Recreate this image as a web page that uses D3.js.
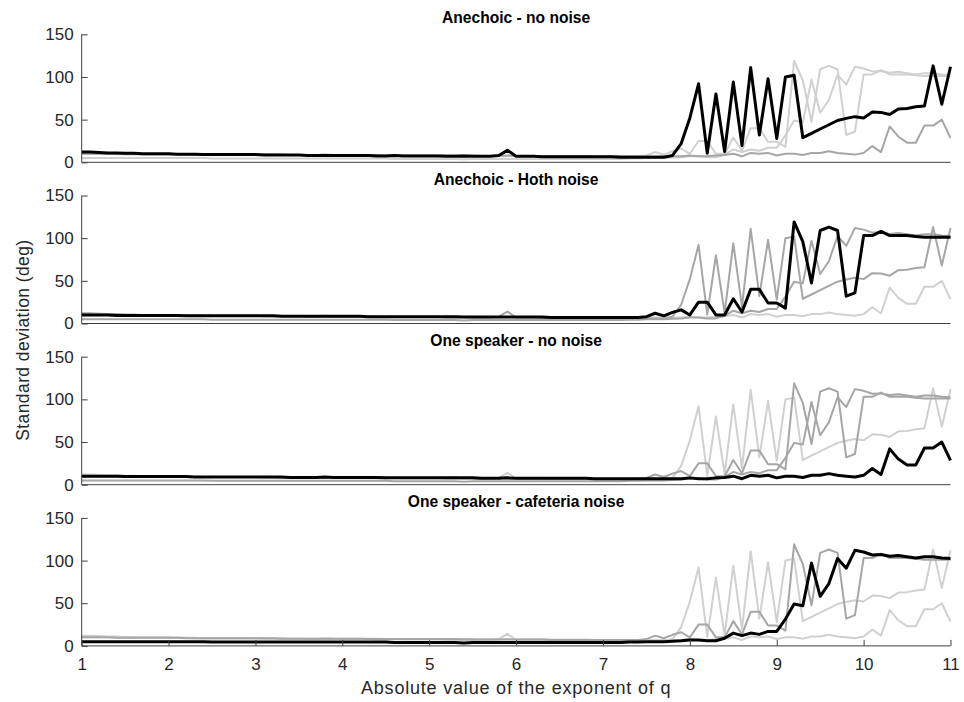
<!DOCTYPE html>
<html>
<head>
<meta charset="utf-8">
<script src="https://cdn.jsdelivr.net/npm/d3@7"></script>
<style>
  html, body { margin: 0; padding: 0; background: #fff; }
  svg { display: block; font-family: "Liberation Sans", Arial, Helvetica, sans-serif; }
</style>
</head>
<body>
<svg id="chart" width="964" height="702"></svg>
<script>
// ---------------- data ----------------
const panelTitles = ["Anechoic - no noise", "Anechoic - Hoth noise", "One speaker - no noise", "One speaker - cafeteria noise"];
const xTicks = [1, 2, 3, 4, 5, 6, 7, 8, 9, 10, 11];
const yTicks = [0, 50, 100, 150];
const xLabel = "Absolute value of the exponent of q";
const yLabel = "Standard deviation (deg)";

// exponent values 1.0 .. 11.0 in steps of 0.1
const exponents = d3.range(0, 101).map(i => Math.round((1 + i * 0.1) * 10) / 10);

// series A (black in panel 1)
const seriesA = [
  12,12,11.5,11,11,10.5,10.5,10,10,10,
  10,9.5,9.5,9.5,9,9,9,9,9,9,
  9,8.5,8.5,8.5,8.5,8.5,8,8,8,8,
  8,8,8,8,7.5,7.5,8,7.5,7.5,7.5,
  7.5,7.5,7,7,7.5,7,7,7,8,14,
  7,7,7,6.5,6.5,6.5,6.5,6.5,6.5,6.5,
  6.5,6.5,6,6,6,6,6,6,8,22,
  52,92,10.5,80,12.5,94,19.5,111,32,98,
  28,100,102,29,34,39,44,49,51.5,53.5,
  52,59,58.5,56,62.5,63,65,66,113,68,
  112
];
// series B (black in panel 2)
const seriesB = [
  10,10,10,10,9.5,9.5,9.5,9.5,9.5,9.5,
  9.5,9.5,9,9,9,9,9,9,9,9,
  9,9,9,8.5,8.5,8.5,8.5,8.5,8.5,8.5,
  8.5,8.5,8.5,8,8,8,8,8,8,8,
  8,8,8,8,7.5,7.5,7.5,7.5,7.5,7.5,
  7.5,7.5,7.5,7.5,7,7,7,7,7,7,
  7,7,7,7,7,8,12,9,13,16,
  10,25,25,10,10,29,13.5,40,40,24,
  24,18,119,96,47.5,109,113,109,32,36,
  103,103,108,103,103,103,102,101,101,101,
  101
];
// series C (black in panel 3)
const seriesC = [
  10,10,10,10,10,9.5,9.5,9.5,9.5,9.5,
  9.5,9.5,9.5,9,9,9,9,9,9,9,
  9,9,9,9,8.5,8.5,8.5,8.5,9,8.5,
  8.5,8.5,8.5,8.5,8.5,8,8,8,8,8,
  8,8,8,8,8,8,7.5,7.5,7.5,8,
  7.5,7.5,7.5,7.5,7.5,7.5,7.5,7.5,7.5,7,
  7,7,7,7,7,7,7,7,7,7,
  8,7,7,8,8.5,10,7,11,10,11,
  8,10,10,8.5,11,11,13,11,10,9,
  11,19,12,42,30,23,23,43,43,50,
  28.5
];
// series D (black in panel 4)
const seriesD = [
  5,5,5,5,5,5,5,5,5,5,
  5,5,5,5,5,4.5,4.5,4.5,4.5,4.5,
  4.5,4.5,4.5,4.5,4.5,4.5,4.5,4.5,4.5,4.5,
  4.5,4.5,4.5,4.5,4.5,4.5,4,4,4,4,
  4,4,4,4,3.5,4,4,4,4,4,
  4,4,4,4,4,4,4,4,4,4,
  4,4,4,4.5,4.5,5,5,5,5.5,6,
  7,7,6,6,9,15,12,15,13.5,17,
  17,31.5,49,47,97,58,73,102.5,91,112,
  110,106.5,107,105,106,104.5,103,104.5,104.5,103,
  102.5
];
const seriesList = [seriesA, seriesB, seriesC, seriesD];
// shade of each series in each panel: 0 = black, 1 = mid gray, 2 = light gray
const shadeByPanel = [
  [0, 2, 1, 2],
  [1, 0, 2, 1],
  [2, 1, 0, 1],
  [2, 1, 2, 0]
];

// ---------------- layout ----------------
const shadeColor = ["#000000", "#a6a6a6", "#d0d0d0"];
const shadeWidth = [3, 2, 2];
const left = 81.7, right = 950.5;
const panelTop0 = 34.3, panelH = 128, panelStep = 161.2;
const axisColor = "#404040";
const fontFam = "'Liberation Sans', Arial, sans-serif";

const svg = d3.select("#chart");
const x = d3.scaleLinear().domain([1, 11]).range([left, right]);

panelTitles.forEach((title, p) => {
  const top = panelTop0 + p * panelStep;
  const y = d3.scaleLinear().domain([0, 150]).range([top + panelH, top]);
  const g = svg.append("g");

  // lines: light first, then mid, then black
  const order = [0, 1, 2, 3].sort((a, b) => shadeByPanel[p][b] - shadeByPanel[p][a]);
  const line = d3.line().x((d, i) => x(exponents[i])).y(d => y(d));
  order.forEach(s => {
    const sh = shadeByPanel[p][s];
    g.append("path")
      .datum(seriesList[s])
      .attr("d", line)
      .attr("fill", "none")
      .attr("stroke", shadeColor[sh])
      .attr("stroke-width", shadeWidth[sh])
      .attr("stroke-linejoin", "round");
  });

  // y axis
  const yAxis = d3.axisLeft(y).tickValues(yTicks).tickSize(-6).tickPadding(8).tickFormat(d3.format("d"));
  const ya = g.append("g").attr("transform", `translate(${left},0)`).call(yAxis);
  ya.select(".domain").attr("stroke", axisColor).attr("d", `M0,${top + panelH}V${top}`);
  ya.selectAll(".tick line").attr("stroke", axisColor);
  ya.selectAll(".tick text").attr("fill", "#262626").style("font-size", "17px")
    .style("font-family", fontFam);

  // x axis
  const isLast = p === panelTitles.length - 1;
  const xAxis = d3.axisBottom(x).tickValues(isLast ? xTicks : []).tickSize(-6).tickPadding(12).tickFormat(d3.format("d"));
  const xa = g.append("g").attr("transform", `translate(0,${top + panelH})`).call(xAxis);
  xa.select(".domain").attr("stroke", axisColor).attr("d", `M${left},0H${right}`);
  xa.selectAll(".tick line").attr("stroke", axisColor);
  xa.selectAll(".tick text").attr("fill", "#262626").style("font-size", "17px")
    .style("font-family", fontFam);

  // title
  svg.append("text")
    .attr("x", (left + right) / 2)
    .attr("y", top - 11)
    .attr("text-anchor", "middle")
    .style("font-size", "15.6px")
    .style("font-weight", "bold")
    .style("font-family", fontFam)
    .attr("fill", "#000")
    .text(title);
});

// axis labels
svg.append("text")
  .attr("x", (left + right) / 2)
  .attr("y", 694)
  .attr("text-anchor", "middle")
  .style("font-size", "18px")
  .style("letter-spacing", "0.8px")
  .style("font-family", fontFam)
  .attr("fill", "#262626")
  .text(xLabel);

svg.append("text")
  .attr("transform", `translate(29,${(panelTop0 + panelTop0 + 3 * panelStep + panelH) / 2}) rotate(-90)`)
  .attr("text-anchor", "middle")
  .style("font-size", "17.5px")
  .style("letter-spacing", "0.4px")
  .style("font-family", fontFam)
  .attr("fill", "#262626")
  .text(yLabel);
</script>
</body>
</html>
